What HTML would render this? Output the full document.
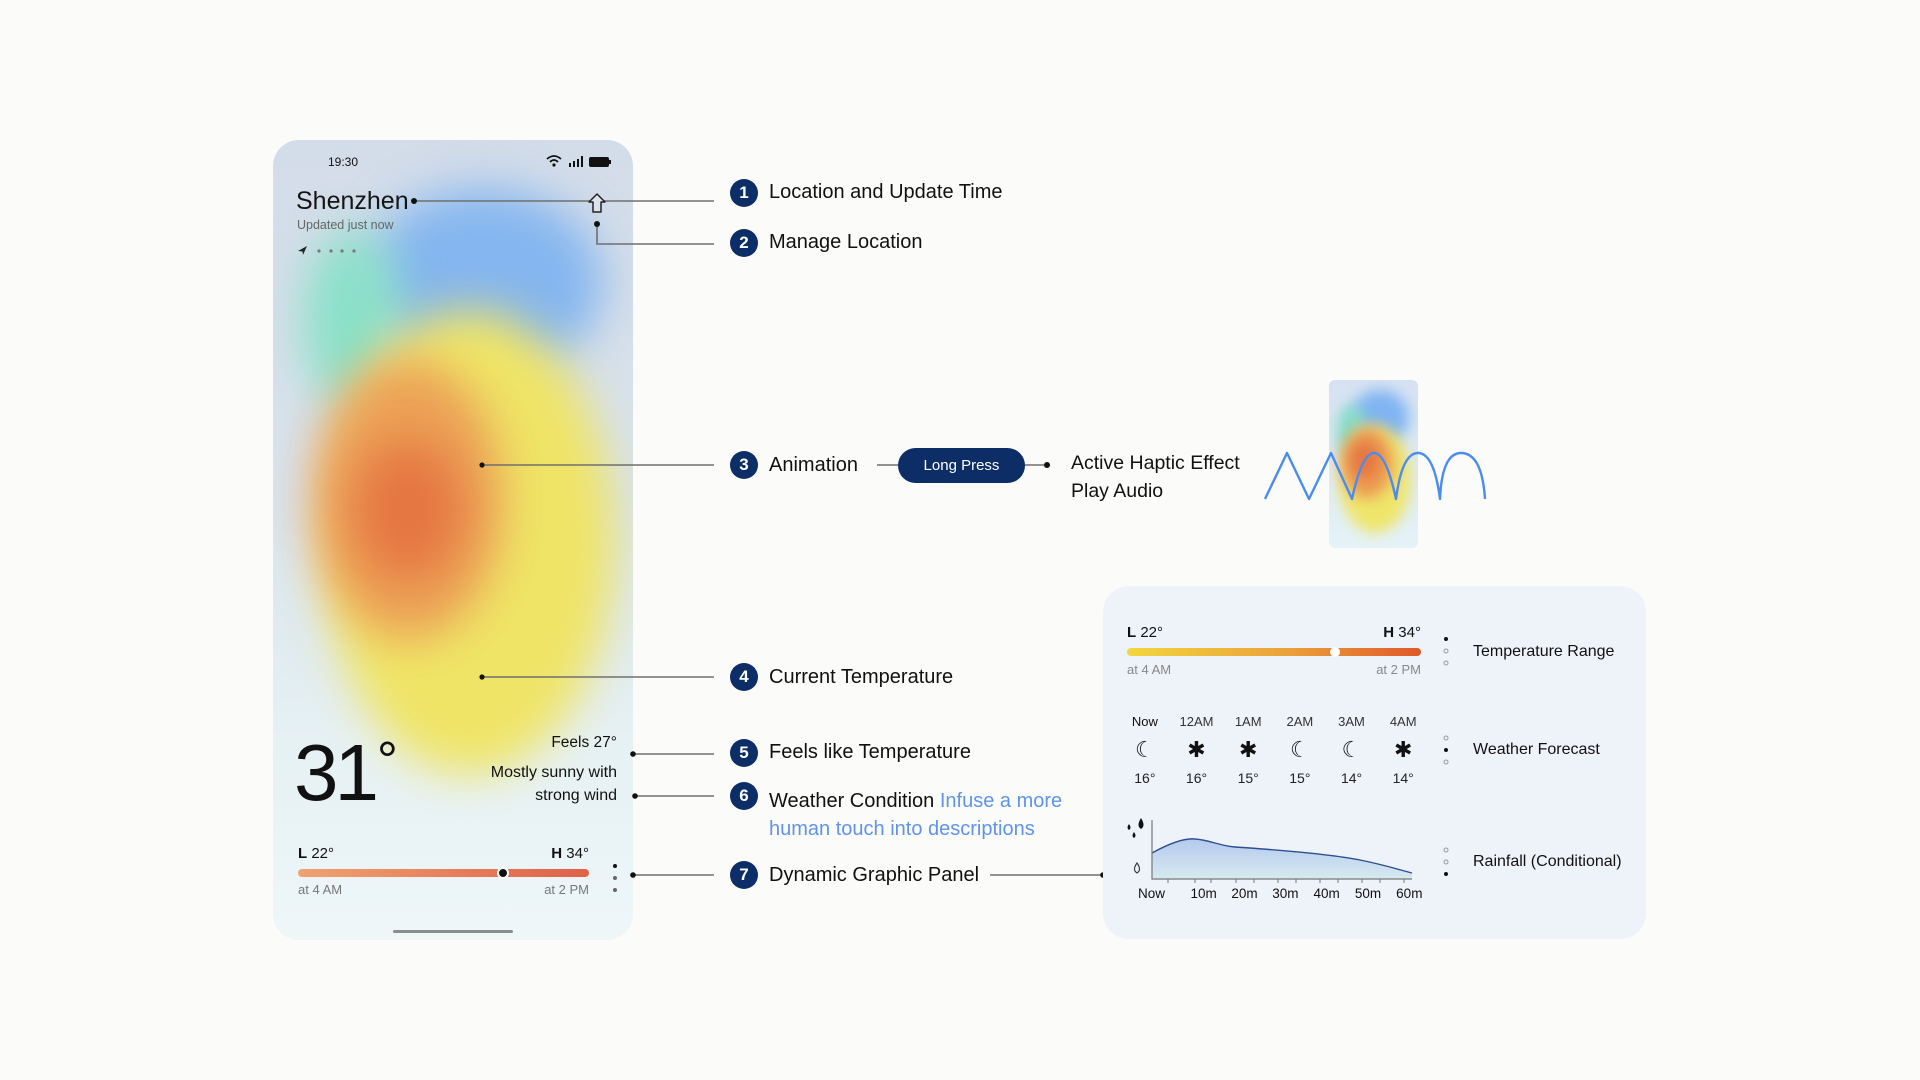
<!DOCTYPE html>
<html><head><meta charset="utf-8"><style>
*{margin:0;padding:0;box-sizing:border-box}
body{width:1920px;height:1080px;background:#fbfbfa;position:relative;overflow:hidden;font-family:"Liberation Sans",sans-serif;color:#111}
.a{position:absolute;white-space:nowrap}
.phone{position:absolute;left:273px;top:140px;width:360px;height:800px;border-radius:26px;overflow:hidden;background:linear-gradient(180deg,#d3dce9 0%,#d9e3ec 45%,#e6f1f4 75%,#eef6f8 100%)}
.b{position:absolute;border-radius:50%;filter:blur(22px)}
.badge{position:absolute;width:28px;height:28px;border-radius:50%;background:#0c2d66;color:#fff;font-weight:bold;font-size:17px;line-height:28px;text-align:center}
.lab{position:absolute;font-size:20px;line-height:24px;color:#111;white-space:nowrap}
</style></head><body>

<div class="phone">
  <div class="b" style="left:90px;top:48px;width:240px;height:190px;background:#85b6ef"></div>
  <div class="b" style="left:30px;top:90px;width:100px;height:180px;background:#8be0c8"></div>
  <div class="b" style="left:50px;top:170px;width:292px;height:465px;background:#efe466"></div>
  <div class="b" style="left:40px;top:220px;width:190px;height:280px;background:#ec9a55;opacity:.9"></div>
  <div class="b" style="left:80px;top:300px;width:110px;height:140px;background:#e4703f;opacity:.85"></div>
</div>

<div class="a" style="left:328px;top:154px;font-size:12px;line-height:16px">19:30</div>
<svg class="a" style="left:545px;top:153px" width="70" height="18" viewBox="0 0 70 18">
  <path d="M2 6 Q9 0 16 6" stroke="#111" stroke-width="1.8" fill="none"/>
  <path d="M5 9 Q9 5 13 9" stroke="#111" stroke-width="1.8" fill="none"/>
  <circle cx="9" cy="12" r="1.6" fill="#111"/>
  <rect x="24" y="10" width="2" height="4" fill="#111"/><rect x="28" y="8" width="2" height="6" fill="#111"/><rect x="32" y="6" width="2" height="8" fill="#111"/><rect x="36" y="3" width="2" height="11" fill="#111"/>
  <rect x="44" y="4" width="20" height="10" rx="2" fill="#111"/><rect x="64" y="7" width="2" height="4" fill="#111"/>
</svg>
<div class="a" style="left:296px;top:186px;font-size:25px;line-height:30px;color:#151515">Shenzhen</div>
<div class="a" style="left:297px;top:217px;font-size:12.5px;line-height:16px;color:#666">Updated just now</div>
<svg class="a" style="left:296px;top:244px" width="70" height="14">
  <path d="M2 7 L11 2 L7 11 L6.5 7.5 Z" fill="#222"/>
  <circle cx="23" cy="7" r="1.6" fill="#777"/><circle cx="35" cy="7" r="1.6" fill="#777"/><circle cx="46" cy="7" r="1.6" fill="#777"/><circle cx="58" cy="7" r="1.6" fill="#777"/>
</svg>
<div class="a" style="left:294px;top:721px;font-size:80px;line-height:80px;font-weight:300;color:#111;letter-spacing:-4px">31<span style="font-size:52px;vertical-align:22px;letter-spacing:0;margin-left:2px">°</span></div>
<div class="a" style="left:460px;top:733px;width:157px;text-align:right;font-size:15.5px;line-height:20px">Feels 27°</div>
<div class="a" style="left:430px;top:761px;width:187px;text-align:right;font-size:16px;line-height:23px">Mostly sunny with<br>strong wind</div>
<div class="a" style="left:298px;top:845px;font-size:15px;line-height:18px"><b>L</b> 22°</div>
<div class="a" style="left:520px;top:845px;width:69px;text-align:right;font-size:15px;line-height:18px"><b>H</b> 34°</div>
<div class="a" style="left:298px;top:869px;width:291px;height:8px;border-radius:4px;background:linear-gradient(90deg,#f0a270,#e06048)"></div>
<div class="a" style="left:497px;top:867px;width:12px;height:12px;border-radius:50%;background:#111;border:2px solid #fff"></div>
<div class="a" style="left:298px;top:882px;font-size:13px;line-height:16px;color:#777">at 4 AM</div>
<div class="a" style="left:520px;top:882px;width:69px;text-align:right;font-size:13px;line-height:16px;color:#777">at 2 PM</div>
<div class="a" style="left:393px;top:930px;width:120px;height:3px;border-radius:2px;background:#8a8d90"></div>

<svg class="a" style="left:0;top:0" width="1920" height="1080">
  <g stroke="#6f6f6f" stroke-width="1.6" fill="none">
    <path d="M414 201 H714"/>
    <path d="M597 224 V244 H714"/>
    <path d="M482 465 H714"/>
    <path d="M877 465 H898"/><path d="M1025 465 H1047"/>
    <path d="M482 677 H714"/>
    <path d="M633 754 H714"/>
    <path d="M635 796 H714"/>
    <path d="M633 875 H714"/>
    <path d="M990 875 H1103"/>
  </g>
  <g fill="#111">
    <circle cx="414" cy="201" r="3"/><circle cx="597" cy="224" r="3"/>
    <circle cx="482" cy="465" r="2.6"/><circle cx="1047" cy="465" r="3"/>
    <circle cx="482" cy="677" r="2.6"/><circle cx="633" cy="754" r="2.8"/>
    <circle cx="635" cy="796" r="2.8"/><circle cx="633" cy="875" r="2.8"/>
    <circle cx="1103" cy="875" r="2.8"/>
    <circle cx="615" cy="866" r="2"/><circle cx="615" cy="878" r="2" fill="#666"/><circle cx="615" cy="890" r="2" fill="#666"/>
  </g>
  <path d="M589 202 L597 194 L605 202 H601 V212 H593 V202 Z" stroke="#222" stroke-width="1.5" fill="#dde3ee" stroke-linejoin="round"/>
</svg>

<div class="badge" style="left:730px;top:179px">1</div><div class="lab" style="left:769px;top:180px">Location and Update Time</div>
<div class="badge" style="left:730px;top:229px">2</div><div class="lab" style="left:769px;top:230px">Manage Location</div>
<div class="badge" style="left:730px;top:451px">3</div><div class="lab" style="left:769px;top:453px">Animation</div>
<div class="a" style="left:898px;top:448px;width:127px;height:35px;border-radius:18px;background:#0c2d66;color:#fff;font-size:15px;line-height:35px;text-align:center">Long Press</div>
<div class="lab" style="left:1071px;top:449px;font-size:19.5px;line-height:28px">Active Haptic Effect<br>Play Audio</div>
<div class="badge" style="left:730px;top:663px">4</div><div class="lab" style="left:769px;top:665px">Current Temperature</div>
<div class="badge" style="left:730px;top:739px">5</div><div class="lab" style="left:769px;top:740px">Feels like Temperature</div>
<div class="badge" style="left:730px;top:782px">6</div><div class="lab" style="left:769px;top:787px;line-height:28px">Weather Condition <span style="color:#5f94ea">Infuse a more</span><br><span style="color:#5f94ea">human touch into descriptions</span></div>
<div class="badge" style="left:730px;top:861px">7</div><div class="lab" style="left:769px;top:863px">Dynamic Graphic Panel</div>

<div class="a" style="left:1329px;top:380px;width:89px;height:168px;border-radius:6px;overflow:hidden;background:linear-gradient(180deg,#d6e2f2,#e4f3f7)">
  <div class="b" style="filter:blur(7px);left:22px;top:10px;width:58px;height:55px;background:#80b4f2"></div>
  <div class="b" style="filter:blur(7px);left:8px;top:25px;width:30px;height:55px;background:#86dcc6"></div>
  <div class="b" style="filter:blur(7px);left:10px;top:45px;width:72px;height:108px;background:#efe56a"></div>
  <div class="b" style="filter:blur(7px);left:12px;top:48px;width:52px;height:70px;background:#eb9050;opacity:.9"></div>
  <div class="b" style="filter:blur(6px);left:22px;top:62px;width:28px;height:36px;background:#e4703f;opacity:.8"></div>
</div>
<svg class="a" style="left:0;top:0" width="1920" height="1080">
  <path d="M1265 499 L1287 453 L1309 499 L1331 453 L1352 499 Q1362 453 1374 453 Q1386 453 1396 499 Q1402 453 1418 453 Q1434 453 1440 499 Q1442 453 1461 453 Q1482 453 1485 499" stroke="#4b8cef" stroke-width="2.4" fill="none" stroke-linejoin="round"/>
</svg>

<div class="a" style="left:1103px;top:586px;width:543px;height:353px;border-radius:26px;background:#eef2f9"></div>
<div class="a" style="left:1127px;top:624px;font-size:15px;line-height:18px"><b>L</b> 22°</div>
<div class="a" style="left:1350px;top:624px;width:71px;text-align:right;font-size:15px;line-height:18px"><b>H</b> 34°</div>
<div class="a" style="left:1127px;top:648px;width:294px;height:8px;border-radius:4px;background:linear-gradient(90deg,#f2d63c,#eba03a 55%,#e0582a)"></div>
<div class="a" style="left:1330px;top:647px;width:10px;height:10px;border-radius:50%;background:#fff"></div>
<div class="a" style="left:1127px;top:662px;font-size:13px;line-height:16px;color:#888">at 4 AM</div>
<div class="a" style="left:1340px;top:662px;width:81px;text-align:right;font-size:13px;line-height:16px;color:#888">at 2 PM</div>

<div class="a" style="left:1119px;top:714px;width:310px;font-size:13px;line-height:16px;display:flex">
  <span style="width:52px;text-align:center">Now</span><span style="width:52px;text-align:center;color:#333">12AM</span><span style="width:52px;text-align:center;color:#333">1AM</span><span style="width:52px;text-align:center;color:#333">2AM</span><span style="width:52px;text-align:center;color:#333">3AM</span><span style="width:52px;text-align:center;color:#333">4AM</span>
</div>
<div class="a" style="left:1119px;top:737px;width:310px;font-family:'DejaVu Sans',sans-serif;font-size:22px;line-height:28px;display:flex">
  <span style="width:52px;text-align:center">☾</span><span style="width:52px;text-align:center;font-weight:bold">✱</span><span style="width:52px;text-align:center;font-weight:bold">✱</span><span style="width:52px;text-align:center">☾</span><span style="width:52px;text-align:center">☾</span><span style="width:52px;text-align:center;font-weight:bold">✱</span>
</div>
<div class="a" style="left:1119px;top:769px;width:310px;font-size:14px;line-height:18px;display:flex;color:#222">
  <span style="width:52px;text-align:center">16°</span><span style="width:52px;text-align:center">16°</span><span style="width:52px;text-align:center">15°</span><span style="width:52px;text-align:center">15°</span><span style="width:52px;text-align:center">14°</span><span style="width:52px;text-align:center">14°</span>
</div>

<svg class="a" style="left:0;top:0" width="1920" height="1080">
  <defs><linearGradient id="rg" x1="0" y1="0" x2="0" y2="1"><stop offset="0" stop-color="#b5c9ee"/><stop offset="1" stop-color="#d6eaf0"/></linearGradient></defs>
  <path d="M1152 853 C1170 843 1185 838 1195 839 C1210 840 1220 846 1235 847 C1280 850 1330 854 1360 860 C1385 865 1400 870 1412 873 L1412 879 L1152 879 Z" fill="url(#rg)"/>
  <path d="M1152 853 C1170 843 1185 838 1195 839 C1210 840 1220 846 1235 847 C1280 850 1330 854 1360 860 C1385 865 1400 870 1412 873" stroke="#2e4f92" stroke-width="1.4" fill="none"/>
  <path d="M1152 820 V879 H1412" stroke="#777" stroke-width="1.2" fill="none"/>
  <g stroke="#777" stroke-width="1"><path d="M1168 879v4M1195 879v4M1211 879v4M1236 879v4M1254 879v4M1278 879v4M1296 879v4M1320 879v4M1338 879v4M1362 879v4M1380 879v4M1404 879v4"/></g>
  <g fill="#111">
    <path d="M1129 824 q-3 4 0 6 q3 -2 0 -6z"/><path d="M1141 818 q-5 8 0 11 q5 -3 0 -11z"/><path d="M1134 832 q-3 4 0 6 q3 -2 0 -6z"/>
  </g>
  <path d="M1137 863 q-5 7 0 10 q5 -3 0 -10z" stroke="#333" stroke-width="1.1" fill="none"/>
  <g>
    <circle cx="1446" cy="639" r="2" fill="#111"/><circle cx="1446" cy="651" r="2" fill="none" stroke="#999"/><circle cx="1446" cy="663" r="2" fill="none" stroke="#999"/>
    <circle cx="1446" cy="738" r="2" fill="none" stroke="#999"/><circle cx="1446" cy="750" r="2" fill="#111"/><circle cx="1446" cy="762" r="2" fill="none" stroke="#999"/>
    <circle cx="1446" cy="850" r="2" fill="none" stroke="#999"/><circle cx="1446" cy="862" r="2" fill="none" stroke="#999"/><circle cx="1446" cy="874" r="2" fill="#111"/>
  </g>
</svg>
<div class="a" style="left:1120px;top:886px;width:310px;font-size:13.5px;line-height:16px;display:flex">
  <span style="width:64px;text-align:center">Now</span><span style="width:42px;text-align:center">10m</span><span style="width:41px;text-align:center">20m</span><span style="width:42px;text-align:center">30m</span><span style="width:42px;text-align:center">40m</span><span style="width:42px;text-align:center">50m</span><span style="width:42px;text-align:center">60m</span>
</div>
<div class="a" style="left:1473px;top:642px;font-size:16px;line-height:20px">Temperature Range</div>
<div class="a" style="left:1473px;top:740px;font-size:16px;line-height:20px">Weather Forecast</div>
<div class="a" style="left:1473px;top:852px;font-size:16px;line-height:20px">Rainfall (Conditional)</div>
</body></html>
